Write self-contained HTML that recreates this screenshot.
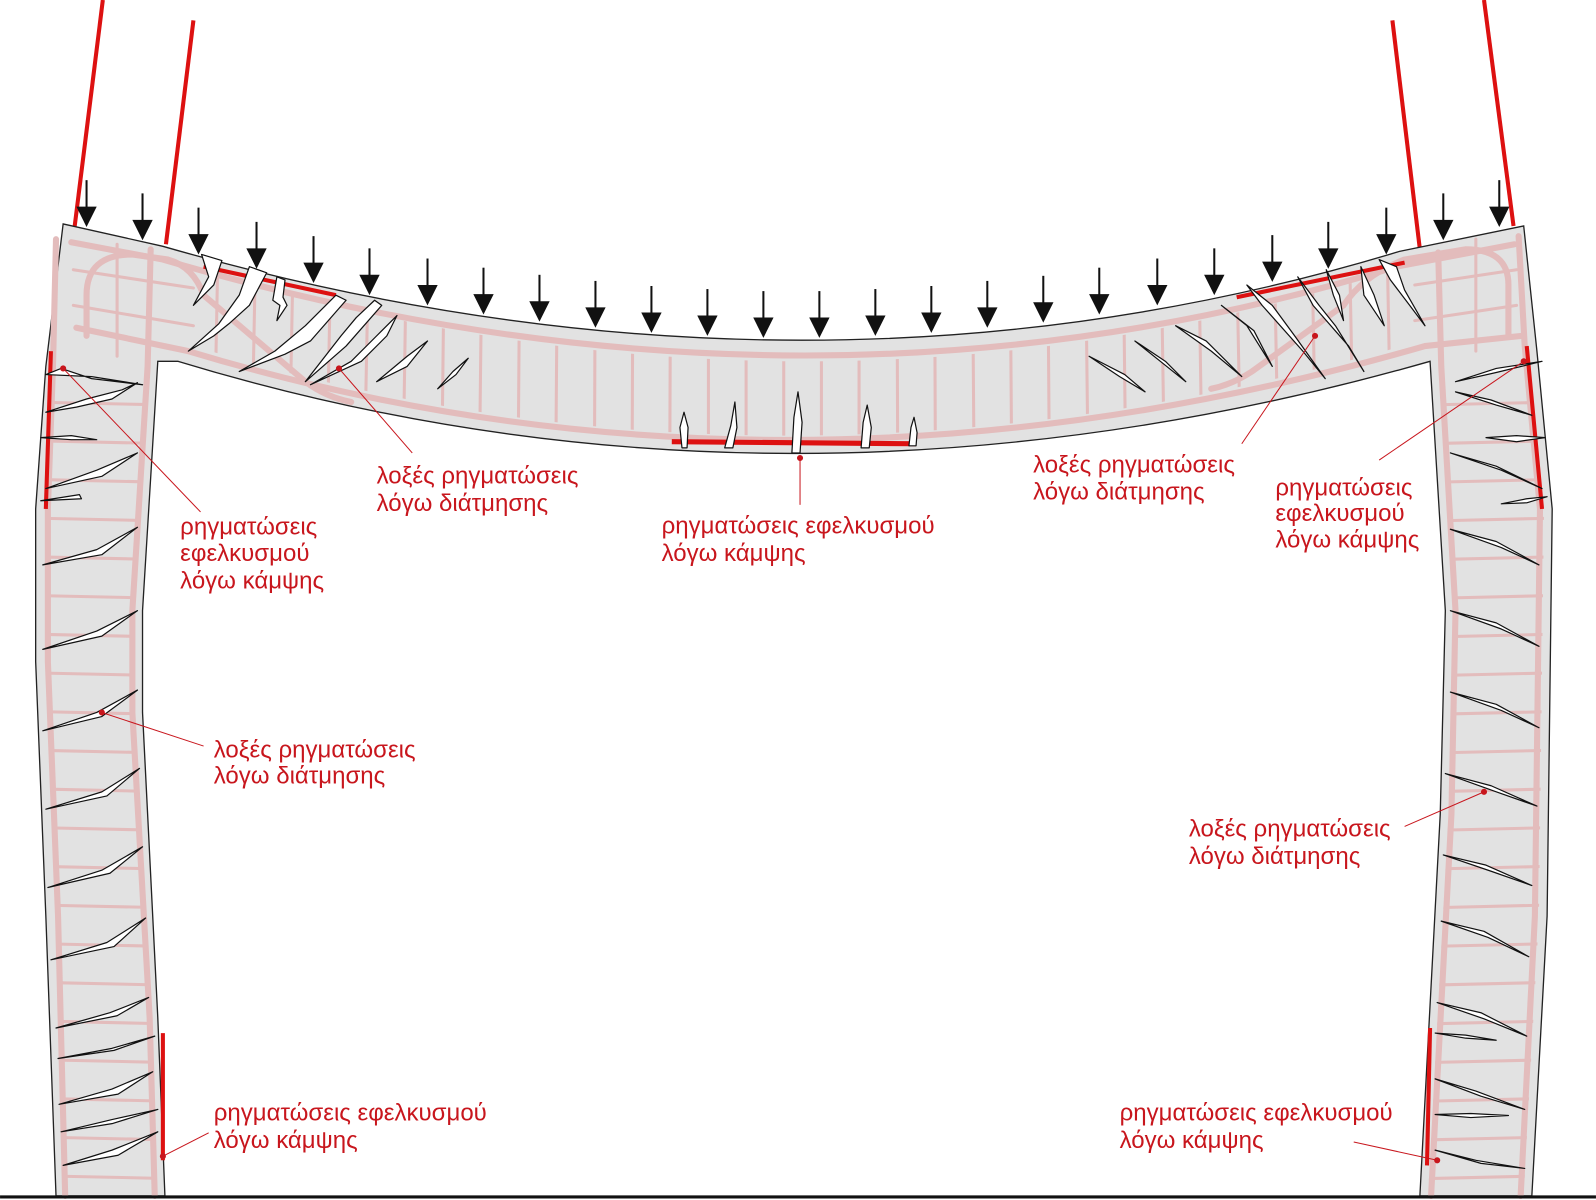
<!DOCTYPE html>
<html><head><meta charset="utf-8"><style>
html,body{margin:0;padding:0;background:#fff;}
svg{display:block;}
text{font-family:"Liberation Sans","DejaVu Sans",sans-serif;font-size:23.6px;fill:#c8161d;}
</style></head><body>
<svg width="1596" height="1200" viewBox="0 0 1568 1179" xmlns="http://www.w3.org/2000/svg">
<defs>
<g id="ar"><line x1="0" y1="-46" x2="0" y2="-16" stroke="#111" stroke-width="2"/><polygon points="-10,-20 10,-20 0,0" fill="#111"/></g>
<clipPath id="cb"><path d="M185,262 Q792,446 1368,266 L1392,336 Q770,518 190,340 Z"/></clipPath>
<clipPath id="cl"><path d="M50,360 L45,500 L45,650 L55,900 L62,1175 L152,1175 L147,1000 L132,700 L132,600 L147,360 Z"/></clipPath>
<clipPath id="cr"><path d="M1413,360 L1428,600 L1423,800 L1403,1175 L1497,1175 L1512,900 L1517,500 L1500,360 Z"/></clipPath>
</defs>
<g stroke="#d11" stroke-width="4" fill="none">
<line x1="101" y1="0" x2="73" y2="225"/><line x1="190" y1="20" x2="163" y2="240"/>
<line x1="1368" y1="20" x2="1395" y2="245"/><line x1="1458" y1="0" x2="1487" y2="222"/>
</g>
<path d="M62,220 L160,242 Q792,424 1375,247 L1497,222 L1510,345 L1525,500 L1520,900 L1505,1175 L1395,1175 L1415,800 L1420,600 L1405,355 Q770,536 175,355 L155,355 L140,600 L140,700 L155,1000 L162,1175 L55,1175 L45,900 L35,650 L35,500 L45,360 Z" fill="#e2e2e2" stroke="#222" stroke-width="1.3"/>
<g stroke="#e3bcbc" fill="none" stroke-linecap="round">
<g stroke-width="6">
<path d="M70,238 L160,255 Q792,440 1372,262 L1488,240"/>
<path d="M75,322 L185,345 Q770,522 1400,340 L1495,330"/>
<polyline points="55,235 52,360 47,500 47,650 57,900 64,1175"/>
<polyline points="148,245 145,360 130,600 130,700 147,1000 152,1175"/>
<polyline points="1492,232 1498,340 1513,500 1508,900 1494,1175"/>
<polyline points="1413,248 1416,360 1430,600 1426,800 1406,1175"/>
<path d="M85,330 L85,290 Q85,250 130,250 L165,255 Q190,262 200,290 L300,375 Q320,390 345,395"/>
<path d="M1482,330 L1482,280 Q1482,245 1440,245 L1380,255 Q1340,270 1320,300 L1230,365 Q1210,378 1190,382"/>
</g>
<g stroke-width="3">
<line x1="72" y1="300" x2="190" y2="320"/><line x1="72" y1="265" x2="190" y2="283"/>
<line x1="1390" y1="280" x2="1490" y2="265"/><line x1="1390" y1="315" x2="1490" y2="300"/>
<line x1="115" y1="240" x2="115" y2="350"/><line x1="1450" y1="235" x2="1450" y2="345"/>
</g>
<g stroke-width="3" clip-path="url(#cb)">
<line x1="215" y1="200" x2="210" y2="460"/><line x1="252" y1="200" x2="247" y2="460"/><line x1="289" y1="200" x2="284" y2="460"/><line x1="326" y1="200" x2="321" y2="460"/><line x1="363" y1="200" x2="358" y2="460"/><line x1="400" y1="200" x2="396" y2="460"/><line x1="437" y1="200" x2="434" y2="460"/><line x1="474" y1="200" x2="471" y2="460"/><line x1="511" y1="200" x2="509" y2="460"/><line x1="548" y1="200" x2="546" y2="460"/><line x1="585" y1="200" x2="584" y2="460"/><line x1="622" y1="200" x2="621" y2="460"/><line x1="659" y1="200" x2="658" y2="460"/><line x1="696" y1="200" x2="696" y2="460"/><line x1="733" y1="200" x2="733" y2="460"/><line x1="770" y1="200" x2="770" y2="460"/><line x1="807" y1="200" x2="807" y2="460"/><line x1="844" y1="200" x2="844" y2="460"/><line x1="881" y1="200" x2="882" y2="460"/><line x1="918" y1="200" x2="919" y2="460"/><line x1="955" y1="200" x2="957" y2="460"/><line x1="992" y1="200" x2="994" y2="460"/><line x1="1029" y1="200" x2="1031" y2="460"/><line x1="1066" y1="200" x2="1069" y2="460"/><line x1="1103" y1="200" x2="1106" y2="460"/><line x1="1140" y1="200" x2="1144" y2="460"/><line x1="1177" y1="200" x2="1181" y2="460"/><line x1="1214" y1="200" x2="1219" y2="460"/><line x1="1251" y1="200" x2="1256" y2="460"/><line x1="1288" y1="200" x2="1293" y2="460"/><line x1="1325" y1="200" x2="1330" y2="460"/><line x1="1362" y1="200" x2="1367" y2="460"/>
</g>
<g stroke-width="3" clip-path="url(#cl)">
<line x1="30" y1="395" x2="170" y2="398"/><line x1="30" y1="433" x2="170" y2="436"/><line x1="30" y1="471" x2="170" y2="474"/><line x1="30" y1="509" x2="170" y2="512"/><line x1="30" y1="547" x2="170" y2="550"/><line x1="30" y1="585" x2="170" y2="588"/><line x1="30" y1="623" x2="170" y2="626"/><line x1="30" y1="661" x2="170" y2="664"/><line x1="30" y1="699" x2="170" y2="702"/><line x1="30" y1="737" x2="170" y2="740"/><line x1="30" y1="775" x2="170" y2="778"/><line x1="30" y1="813" x2="170" y2="816"/><line x1="30" y1="851" x2="170" y2="854"/><line x1="30" y1="889" x2="170" y2="892"/><line x1="30" y1="927" x2="170" y2="930"/><line x1="30" y1="965" x2="170" y2="968"/><line x1="30" y1="1003" x2="170" y2="1006"/><line x1="30" y1="1041" x2="170" y2="1044"/><line x1="30" y1="1079" x2="170" y2="1082"/><line x1="30" y1="1117" x2="170" y2="1120"/><line x1="30" y1="1155" x2="170" y2="1158"/>
</g>
<g stroke-width="3" clip-path="url(#cr)">
<line x1="1400" y1="398" x2="1530" y2="395"/><line x1="1400" y1="436" x2="1530" y2="433"/><line x1="1400" y1="474" x2="1530" y2="471"/><line x1="1400" y1="512" x2="1530" y2="509"/><line x1="1400" y1="550" x2="1530" y2="547"/><line x1="1400" y1="588" x2="1530" y2="585"/><line x1="1400" y1="626" x2="1530" y2="623"/><line x1="1400" y1="664" x2="1530" y2="661"/><line x1="1400" y1="702" x2="1530" y2="699"/><line x1="1400" y1="740" x2="1530" y2="737"/><line x1="1400" y1="778" x2="1530" y2="775"/><line x1="1400" y1="816" x2="1530" y2="813"/><line x1="1400" y1="854" x2="1530" y2="851"/><line x1="1400" y1="892" x2="1530" y2="889"/><line x1="1400" y1="930" x2="1530" y2="927"/><line x1="1400" y1="968" x2="1530" y2="965"/><line x1="1400" y1="1006" x2="1530" y2="1003"/><line x1="1400" y1="1044" x2="1530" y2="1041"/><line x1="1400" y1="1082" x2="1530" y2="1079"/><line x1="1400" y1="1120" x2="1530" y2="1117"/><line x1="1400" y1="1158" x2="1530" y2="1155"/>
</g>
</g>
<g stroke="#d11" stroke-width="4" fill="none">
<line x1="50" y1="345" x2="45" y2="500"/><line x1="160" y1="1015" x2="160" y2="1140"/>
<line x1="1500" y1="340" x2="1515" y2="500"/><line x1="1405" y1="1010" x2="1402" y2="1145"/>
<line x1="200" y1="262" x2="330" y2="290"/><line x1="1215" y1="292" x2="1380" y2="258"/>
<path d="M660,434 L900,436" stroke-width="5"/>
</g>
<g fill="#fff" stroke="#111" stroke-width="1.2" stroke-linejoin="round">
<polygon points="45,368 90,370 140,378 90,372 60,362"/>
<polygon points="45,405 85,392 120,383 135,376 110,392 75,400"/>
<polygon points="40,430 70,432 95,432 70,428"/>
<polygon points="45,480 95,462 135,445 100,468"/>
<polygon points="40,492 80,490 78,486"/>
<polygon points="42,555 95,540 135,518 100,545"/>
<polygon points="42,638 95,620 135,600 100,625"/>
<polygon points="42,718 95,700 135,678 100,704"/>
<polygon points="45,795 100,778 137,755 105,782"/>
<polygon points="47,872 100,855 140,832 108,858"/>
<polygon points="50,943 105,926 143,902 112,930"/>
<polygon points="55,1010 108,995 146,980 115,998"/>
<polygon points="57,1040 110,1030 152,1018 112,1032"/>
<polygon points="58,1085 110,1070 150,1053 116,1075"/>
<polygon points="60,1112 110,1100 155,1090 110,1104"/>
<polygon points="62,1145 110,1130 155,1112 116,1135"/>
<polygon points="1515,355 1470,362 1430,375 1470,366"/>
<polygon points="1430,385 1465,393 1505,408 1470,398"/>
<polygon points="1460,430 1490,434 1518,430 1490,428"/>
<polygon points="1425,445 1470,458 1515,480 1475,462"/>
<polygon points="1475,495 1500,490 1520,488 1500,494"/>
<polygon points="1425,520 1470,532 1512,555 1475,538"/>
<polygon points="1425,600 1470,612 1512,635 1475,618"/>
<polygon points="1425,680 1470,692 1512,715 1475,698"/>
<polygon points="1420,760 1465,772 1510,792 1470,778"/>
<polygon points="1418,840 1460,850 1505,870 1465,856"/>
<polygon points="1416,905 1458,915 1502,940 1462,921"/>
<polygon points="1412,985 1455,995 1500,1018 1458,1001"/>
<polygon points="1410,1015 1440,1020 1470,1022 1440,1017"/>
<polygon points="1410,1060 1450,1072 1498,1090 1455,1077"/>
<polygon points="1410,1095 1445,1098 1482,1096 1445,1094"/>
<polygon points="1410,1130 1450,1140 1498,1148 1455,1143"/>
<polygon points="198,250 205,272 190,300 210,280 218,256"/>
<polygon points="245,262 235,290 215,318 185,345 210,330 225,318 245,300 262,268"/>
<polygon points="272,272 268,295 275,300 272,315 282,300 278,292 280,275"/>
<polygon points="330,290 300,320 270,345 235,365 280,348 305,335 340,295"/>
<polygon points="368,295 350,312 335,330 300,375 340,340 375,300"/>
<polygon points="390,310 370,330 345,355 305,378 355,355 380,330"/>
<polygon points="420,335 400,350 370,375 400,360"/>
<polygon points="460,352 445,365 430,382 448,368"/>
<polygon points="1070,350 1100,370 1125,385 1105,368"/>
<polygon points="1115,335 1140,355 1165,375 1145,355"/>
<polygon points="1155,320 1185,335 1220,370 1190,345"/>
<polygon points="1200,300 1225,320 1250,360 1232,325"/>
<polygon points="1225,280 1240,300 1280,345 1302,372 1272,330 1250,300"/>
<polygon points="1275,272 1290,300 1325,340 1340,365 1312,320 1296,300"/>
<polygon points="1303,265 1310,290 1320,315 1316,290"/>
<polygon points="1337,262 1340,290 1360,320 1350,290"/>
<polygon points="1355,255 1366,275 1385,300 1400,320 1380,285 1372,262"/>
<polygon points="670,440 668,420 672,405 676,420 675,440"/>
<polygon points="712,440 718,418 722,395 724,420 720,440"/>
<polygon points="778,445 780,410 784,385 788,415 786,445"/>
<polygon points="846,440 848,415 852,398 856,420 854,440"/>
<polygon points="893,438 895,420 898,410 901,425 900,438"/>
</g>
<g>
<use href="#ar" x="85" y="223"/><use href="#ar" x="140" y="236"/><use href="#ar" x="195" y="250"/><use href="#ar" x="252" y="264"/><use href="#ar" x="308" y="278"/><use href="#ar" x="363" y="290"/><use href="#ar" x="420" y="300"/><use href="#ar" x="475" y="309"/><use href="#ar" x="530" y="316"/><use href="#ar" x="585" y="322"/><use href="#ar" x="640" y="327"/><use href="#ar" x="695" y="330"/><use href="#ar" x="750" y="332"/><use href="#ar" x="805" y="332"/><use href="#ar" x="860" y="330"/><use href="#ar" x="915" y="327"/><use href="#ar" x="970" y="322"/><use href="#ar" x="1025" y="317"/><use href="#ar" x="1080" y="309"/><use href="#ar" x="1137" y="300"/><use href="#ar" x="1193" y="290"/><use href="#ar" x="1250" y="277"/><use href="#ar" x="1305" y="264"/><use href="#ar" x="1362" y="250"/><use href="#ar" x="1418" y="236"/><use href="#ar" x="1473" y="223"/>
</g>
<line x1="0" y1="1176" x2="1568" y2="1176" stroke="#111" stroke-width="3"/>
<g stroke="#c8161d" stroke-width="1" fill="#c8161d">
<line x1="405" y1="445" x2="333" y2="362"/><circle cx="333" cy="362" r="2.5"/>
<line x1="786" y1="496" x2="786" y2="450"/><circle cx="786" cy="450" r="2.5"/>
<line x1="1220" y1="436" x2="1292" y2="330"/><circle cx="1292" cy="330" r="2.5"/>
<line x1="1355" y1="452" x2="1497" y2="355"/><circle cx="1497" cy="355" r="2.5"/>
<line x1="197" y1="503" x2="62" y2="362"/><circle cx="62" cy="362" r="2.5"/>
<line x1="200" y1="733" x2="100" y2="700"/><circle cx="100" cy="700" r="2.5"/>
<line x1="205" y1="1113" x2="160" y2="1136"/><circle cx="160" cy="1136" r="2.5"/>
<line x1="1380" y1="812" x2="1458" y2="778"/><circle cx="1458" cy="778" r="2.5"/>
<line x1="1330" y1="1122" x2="1412" y2="1140"/><circle cx="1412" cy="1140" r="2.5"/>
</g>
<text x="370" y="475">λοξές ρηγματώσεις</text><text x="370" y="502">λόγω διάτμησης</text>
<text x="650" y="524">ρηγματώσεις εφελκυσμού</text><text x="650" y="551">λόγω κάμψης</text>
<text x="1015" y="464">λοξές ρηγματώσεις</text><text x="1015" y="491">λόγω διάτμησης</text>
<text x="1253" y="487">ρηγματώσεις</text><text x="1253" y="512">εφελκυσμού</text><text x="1253" y="538">λόγω κάμψης</text>
<text x="177" y="525">ρηγματώσεις</text><text x="177" y="551">εφελκυσμού</text><text x="177" y="578">λόγω κάμψης</text>
<text x="210" y="744">λοξές ρηγματώσεις</text><text x="210" y="770">λόγω διάτμησης</text>
<text x="210" y="1101">ρηγματώσεις εφελκυσμού</text><text x="210" y="1128">λόγω κάμψης</text>
<text x="1168" y="822">λοξές ρηγματώσεις</text><text x="1168" y="849">λόγω διάτμησης</text>
<text x="1100" y="1101">ρηγματώσεις εφελκυσμού</text><text x="1100" y="1128">λόγω κάμψης</text>
</svg>
</body></html>
